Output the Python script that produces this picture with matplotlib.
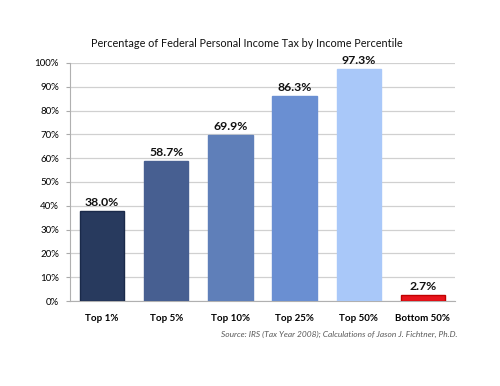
import matplotlib
matplotlib.use('Agg')
import matplotlib.pyplot as plt
from matplotlib.ticker import PercentFormatter

plt.rcParams['font.family'] = ['Lato', 'DejaVu Sans']

# data
groups = ['Top 1%', 'Top 5%', 'Top 10%', 'Top 25%', 'Top 50%', 'Bottom 50%']
shares = [38.0, 58.7, 69.9, 86.3, 97.3, 2.7]
bar_colors = ['#283a5e', '#475f91', '#5f7fb9', '#6a8fd2', '#a9c8f9', '#e8141c']
edge_colors = ['#1a2a4a', '#475f91', '#5f7fb9', '#6a8fd2', '#a9c8f9', '#c00000']

fig = plt.figure(figsize=(5, 3.86), dpi=100)
ax = fig.add_axes([0.14, 0.22, 0.77, 0.617])

x = range(len(groups))
bars = ax.bar(x, shares, width=0.69, color=bar_colors, edgecolor=edge_colors,
              linewidth=1, zorder=3)
for i, v in enumerate(shares):
    ax.text(i, v + 1.2, f'{v:.1f}%', ha='center', va='bottom', fontsize=8.8,
            fontweight='bold', color='#111111')

ax.set_ylim(0, 100)
ax.set_xlim(-0.5, len(groups) - 0.5)
ax.set_yticks(range(0, 101, 10))
ax.yaxis.set_major_formatter(PercentFormatter(decimals=0))
ax.tick_params(axis='y', labelsize=7, length=3, color='#aaaaaa', pad=5)
ax.set_xticks(list(x))
ax.set_xticklabels(groups, fontsize=7, fontweight='bold')
ax.tick_params(axis='x', length=0, pad=9)
ax.grid(axis='y', color='#d0d0d0', linewidth=0.9, zorder=0)
for s in ['top', 'right']:
    ax.spines[s].set_visible(False)
ax.spines['left'].set_color('#b0b0b0')
ax.spines['bottom'].set_color('#b0b0b0')

fig.text(0.494, 0.888, 'Percentage of Federal Personal Income Tax by Income Percentile',
         ha='center', va='center', fontsize=7.8, color='#111111')
fig.text(0.915, 0.133, 'Source: IRS (Tax Year 2008); Calculations of Jason J. Fichtner, Ph.D.',
         ha='right', va='center', fontsize=6.0, style='italic', color='#595959')

fig.savefig('out.png', dpi=100)
